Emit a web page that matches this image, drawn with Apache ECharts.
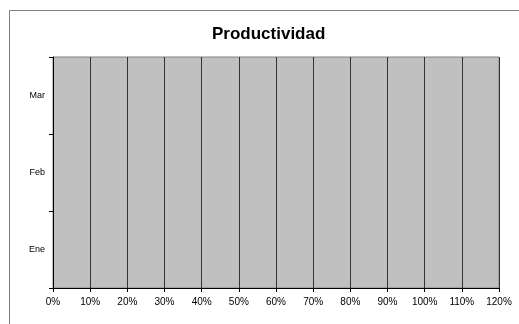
<!DOCTYPE html>
<html>
<head>
<meta charset="utf-8">
<script src="https://cdn.jsdelivr.net/npm/echarts@6/dist/echarts.min.js"></script>
<style>
html,body{margin:0;padding:0;background:#fff;}
#c{width:519px;height:324px;}
</style>
</head>
<body>
<div id="c"></div>
<script>
const title = 'Productividad';
const categories = ['Ene', 'Feb', 'Mar'];
const values = [0, 0, 0];
const xMin = 0, xMax = 1.2, xStep = 0.1;

const chart = echarts.init(document.getElementById('c'), null, {renderer: 'canvas'});
chart.setOption({
  animation: false,
  backgroundColor: '#ffffff',
  title: {
    text: title, left: 207, top: 21,
    textStyle: {fontFamily: 'Liberation Sans, Arial, sans-serif', fontSize: 17, fontWeight: 'bold', color: '#000'}
  },
  graphic: [{
    type: 'rect', shape: {x: 9.5, y: 10.5, width: 700, height: 500},
    style: {fill: 'none', stroke: '#808080', lineWidth: 1}, silent: true, z: -1
  }],
  grid: {
    left: 53, right: 20, top: 57, bottom: 36,
    show: true, backgroundColor: '#c0c0c0', borderColor: '#808080', borderWidth: 1
  },
  xAxis: {
    type: 'value', min: xMin, max: xMax, interval: xStep,
    axisLine: {show: true, lineStyle: {color: '#000', width: 1}},
    axisTick: {show: true, length: 4, lineStyle: {color: '#000'}},
    splitLine: {show: true, lineStyle: {color: '#333', width: 1}},
    axisLabel: {
      formatter: v => Math.round(v * 100) + '%',
      fontFamily: 'Liberation Sans, Arial, sans-serif', fontSize: 10, color: '#000', margin: 9
    }
  },
  yAxis: {
    type: 'category', data: categories,
    axisLine: {show: true, lineStyle: {color: '#000', width: 1}},
    axisTick: {show: true, length: 4, lineStyle: {color: '#000'}},
    splitLine: {show: false},
    axisLabel: {fontFamily: 'Liberation Sans, Arial, sans-serif', fontSize: 9, color: '#000', margin: 8}
  },
  series: [{
    type: 'bar', data: values, itemStyle: {color: '#9999ff'}, barWidth: '50%'
  }]
});
</script>
</body>
</html>
